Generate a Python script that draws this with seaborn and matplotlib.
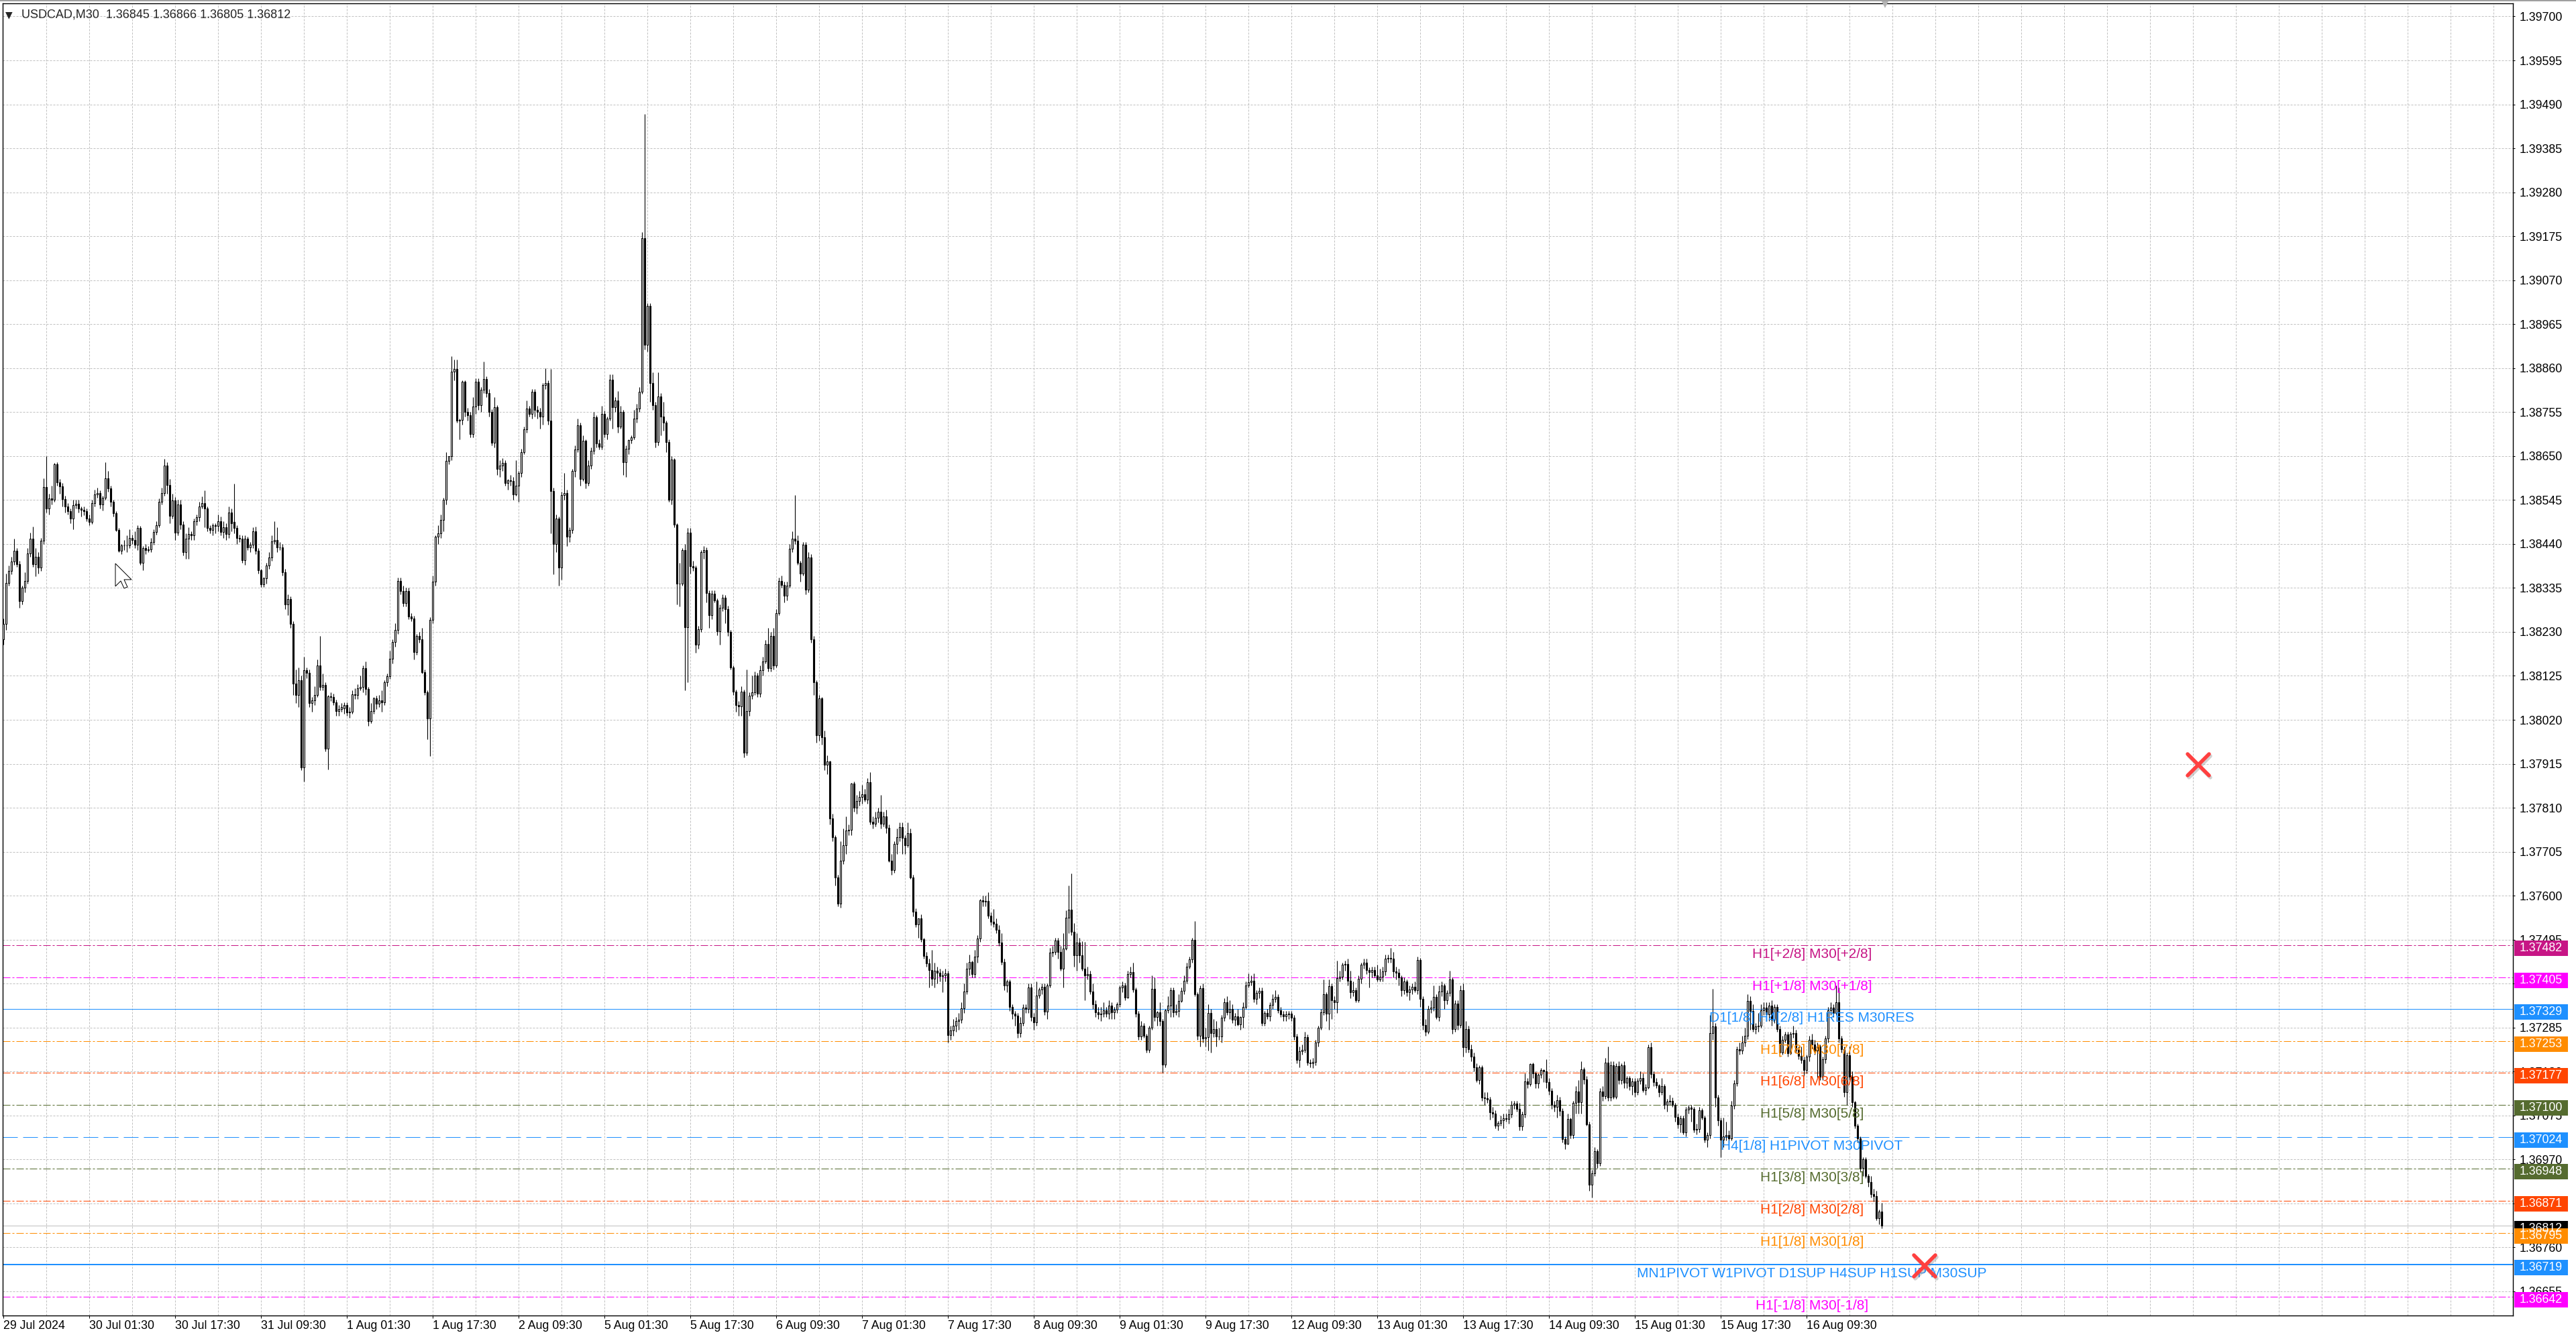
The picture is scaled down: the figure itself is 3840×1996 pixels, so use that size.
import numpy as np
import matplotlib
matplotlib.use("Agg")
import matplotlib.pyplot as plt
import matplotlib.transforms as mtransforms
import matplotlib.patheffects as pe
from matplotlib.markers import MarkerStyle
from matplotlib.patches import Rectangle, Polygon
import seaborn as sns

# USDCAD M30 candles from 29 Jul 2024 09:30 to 16 Aug 2024 23:30 (701 bars)
# prices are stored as points above 1.36000 (1 point = 0.00001)
base = 1.36

opens = [
    2212, 2249, 2347, 2375, 2398, 2424, 2392, 2304, 2335, 2352, 2418, 2452, 2392, 2410, 2384, 2448, 2576, 2524, 2548, 2545,
    2630, 2587, 2578, 2547, 2530, 2518, 2501, 2533, 2536, 2524, 2522, 2518, 2501, 2493, 2538, 2558, 2561, 2535, 2550, 2597,
    2573, 2540, 2513, 2473, 2424, 2437, 2436, 2437, 2455, 2450, 2439, 2479, 2395, 2430, 2426, 2427, 2444, 2469, 2484, 2541,
    2561, 2628, 2581, 2507, 2544, 2467, 2535, 2487, 2421, 2452, 2464, 2461, 2495, 2504, 2530, 2537, 2524, 2478, 2474, 2485,
    2483, 2495, 2469, 2480, 2464, 2515, 2492, 2478, 2455, 2452, 2401, 2452, 2432, 2438, 2470, 2424, 2378, 2344, 2358, 2389,
    2408, 2447, 2450, 2431, 2432, 2372, 2295, 2309, 2249, 2106, 2080, 2115, 1906, 2138, 2132, 2060, 2066, 2080, 2150, 2098,
    2104, 1951, 2076, 2075, 2062, 2041, 2046, 2048, 2056, 2037, 2040, 2081, 2079, 2096, 2098, 2143, 2094, 2017, 2041, 2071,
    2058, 2066, 2062, 2109, 2124, 2166, 2206, 2235, 2352, 2327, 2299, 2327, 2267, 2262, 2182, 2221, 2212, 2134, 2086, 2023,
    2258, 2350, 2458, 2466, 2498, 2545, 2639, 2649, 2851, 2858, 2734, 2737, 2827, 2755, 2748, 2702, 2769, 2827, 2771, 2808,
    2834, 2801, 2755, 2681, 2766, 2620, 2628, 2633, 2585, 2592, 2590, 2559, 2580, 2610, 2660, 2713, 2763, 2750, 2803, 2761,
    2755, 2745, 2819, 2824, 2734, 2567, 2440, 2500, 2384, 2557, 2562, 2458, 2474, 2614, 2665, 2723, 2596, 2686, 2585, 2628,
    2662, 2742, 2680, 2672, 2750, 2702, 2740, 2833, 2766, 2782, 2720, 2755, 2635, 2667, 2688, 2695, 2740, 2764, 2803, 3171,
    2915, 3008, 2824, 2771, 2684, 2793, 2745, 2730, 2684, 2545, 2641, 2486, 2345, 2345, 2425, 2241, 2467, 2387, 2384, 2199,
    2237, 2420, 2425, 2323, 2270, 2321, 2305, 2232, 2288, 2312, 2284, 2230, 2145, 2088, 2056, 2052, 2088, 1941, 2041, 2077,
    2086, 2126, 2082, 2138, 2160, 2201, 2143, 2220, 2150, 2274, 2351, 2342, 2317, 2340, 2429, 2453, 2448, 2395, 2370, 2439,
    2331, 2408, 2213, 2110, 1983, 2072, 1978, 1912, 1920, 1785, 1740, 1644, 1581, 1684, 1720, 1755, 1758, 1868, 1810, 1826,
    1836, 1842, 1830, 1871, 1776, 1772, 1786, 1800, 1772, 1790, 1762, 1684, 1661, 1724, 1740, 1764, 1738, 1721, 1750, 1644,
    1561, 1532, 1545, 1496, 1456, 1439, 1423, 1402, 1420, 1416, 1408, 1410, 1414, 1267, 1278, 1290, 1300, 1304, 1331, 1371,
    1425, 1441, 1413, 1455, 1498, 1589, 1585, 1588, 1552, 1537, 1533, 1519, 1488, 1442, 1385, 1395, 1334, 1319, 1314, 1271,
    1296, 1332, 1330, 1380, 1311, 1298, 1362, 1376, 1382, 1323, 1386, 1464, 1466, 1493, 1465, 1425, 1473, 1547, 1567, 1513,
    1457, 1488, 1458, 1425, 1410, 1413, 1371, 1340, 1322, 1317, 1318, 1327, 1318, 1338, 1322, 1328, 1341, 1380, 1386, 1357,
    1412, 1417, 1376, 1319, 1263, 1290, 1265, 1231, 1285, 1378, 1310, 1322, 1300, 1197, 1327, 1338, 1375, 1322, 1325, 1349,
    1373, 1397, 1431, 1448, 1494, 1365, 1266, 1379, 1259, 1262, 1320, 1272, 1282, 1264, 1264, 1308, 1346, 1322, 1329, 1303,
    1312, 1293, 1310, 1335, 1385, 1394, 1396, 1353, 1368, 1372, 1296, 1320, 1312, 1339, 1353, 1358, 1327, 1317, 1312, 1317,
    1318, 1308, 1263, 1207, 1229, 1232, 1262, 1202, 1200, 1203, 1250, 1285, 1322, 1365, 1318, 1384, 1350, 1345, 1403, 1406,
    1435, 1437, 1396, 1370, 1375, 1350, 1401, 1435, 1440, 1422, 1417, 1422, 1410, 1400, 1406, 1419, 1449, 1452, 1450, 1419,
    1416, 1405, 1374, 1395, 1370, 1376, 1382, 1375, 1446, 1353, 1291, 1275, 1330, 1333, 1359, 1311, 1371, 1385, 1350, 1368,
    1400, 1281, 1342, 1291, 1374, 1238, 1281, 1234, 1216, 1190, 1160, 1190, 1118, 1117, 1113, 1083, 1080, 1050, 1057, 1063,
    1069, 1066, 1078, 1100, 1103, 1090, 1049, 1078, 1157, 1150, 1198, 1176, 1151, 1172, 1183, 1180, 1154, 1134, 1100, 1095,
    1112, 1086, 1018, 1007, 1066, 1028, 1105, 1133, 1106, 1185, 1161, 1054, 910, 937, 990, 961, 1133, 1121, 1202, 1118,
    1195, 1120, 1194, 1160, 1195, 1153, 1165, 1145, 1157, 1130, 1158, 1165, 1136, 1142, 1238, 1174, 1155, 1146, 1130, 1145,
    1100, 1109, 1110, 1100, 1072, 1054, 1068, 1035, 1089, 1094, 1090, 1041, 1043, 1087, 1070, 1017, 1028, 1271, 1287, 1118,
    1063, 1017, 1025, 1028, 1020, 1099, 1152, 1234, 1230, 1250, 1266, 1348, 1324, 1282, 1288, 1290, 1327, 1333, 1317, 1338,
    1303, 1335, 1282, 1225, 1256, 1268, 1223, 1270, 1272, 1232, 1218, 1207, 1183, 1215, 1255, 1245, 1230, 1240, 1167, 1210,
    1259, 1327, 1333, 1320, 1345, 1259, 1234, 1130, 1219, 1167, 1106, 1051, 1020, 949, 970, 931, 916, 888, 883, 830,
    845,
]

highs = [
    2262, 2370, 2388, 2410, 2452, 2430, 2400, 2340, 2372, 2430, 2467, 2482, 2430, 2420, 2455, 2597, 2650, 2560, 2580, 2633,
    2635, 2595, 2585, 2555, 2538, 2525, 2545, 2545, 2545, 2530, 2530, 2525, 2510, 2545, 2570, 2575, 2568, 2555, 2636, 2615,
    2580, 2545, 2518, 2478, 2440, 2450, 2460, 2475, 2462, 2470, 2485, 2483, 2435, 2440, 2435, 2455, 2475, 2495, 2548, 2575,
    2644, 2636, 2595, 2560, 2552, 2545, 2545, 2495, 2465, 2480, 2470, 2500, 2510, 2540, 2553, 2568, 2530, 2485, 2490, 2490,
    2510, 2505, 2495, 2490, 2530, 2525, 2584, 2485, 2462, 2460, 2460, 2458, 2445, 2480, 2482, 2430, 2380, 2362, 2395, 2420,
    2460, 2495, 2480, 2445, 2440, 2380, 2320, 2315, 2255, 2140, 2145, 2125, 2170, 2145, 2140, 2075, 2100, 2165, 2220, 2130,
    2110, 2080, 2085, 2082, 2068, 2055, 2060, 2062, 2062, 2050, 2090, 2095, 2105, 2125, 2150, 2160, 2098, 2060, 2075, 2078,
    2080, 2090, 2115, 2130, 2185, 2212, 2250, 2360, 2360, 2340, 2335, 2335, 2275, 2268, 2225, 2230, 2240, 2140, 2090, 2265,
    2365, 2460, 2485, 2510, 2550, 2660, 2650, 2888, 2880, 2880, 2740, 2830, 2830, 2765, 2755, 2790, 2835, 2835, 2815, 2875,
    2840, 2810, 2762, 2790, 2772, 2640, 2645, 2640, 2595, 2605, 2600, 2640, 2615, 2668, 2720, 2783, 2770, 2810, 2810, 2770,
    2765, 2825, 2860, 2830, 2858, 2575, 2510, 2505, 2565, 2610, 2570, 2480, 2620, 2675, 2740, 2730, 2700, 2690, 2640, 2670,
    2755, 2748, 2690, 2770, 2758, 2745, 2845, 2845, 2790, 2805, 2770, 2760, 2675, 2690, 2700, 2760, 2775, 2815, 3185, 3467,
    3015, 3015, 2850, 2780, 2850, 2800, 2780, 2735, 2690, 2650, 2645, 2490, 2395, 2430, 2440, 2478, 2478, 2400, 2388, 2245,
    2425, 2435, 2432, 2330, 2330, 2330, 2310, 2295, 2320, 2318, 2292, 2235, 2150, 2092, 2065, 2100, 2092, 2140, 2085, 2125,
    2135, 2132, 2150, 2170, 2210, 2240, 2230, 2240, 2285, 2360, 2365, 2350, 2350, 2440, 2470, 2556, 2460, 2400, 2445, 2445,
    2420, 2415, 2220, 2115, 2080, 2075, 1995, 1935, 1922, 1795, 1745, 1650, 1730, 1760, 1790, 1770, 1870, 1872, 1840, 1850,
    1865, 1855, 1880, 1895, 1790, 1800, 1810, 1840, 1800, 1805, 1770, 1700, 1730, 1760, 1775, 1775, 1745, 1775, 1760, 1650,
    1570, 1545, 1555, 1500, 1465, 1450, 1470, 1440, 1430, 1425, 1420, 1425, 1420, 1290, 1305, 1310, 1320, 1345, 1390, 1440,
    1460, 1445, 1470, 1505, 1592, 1600, 1600, 1609, 1560, 1568, 1545, 1530, 1510, 1450, 1400, 1400, 1340, 1325, 1320, 1310,
    1340, 1340, 1390, 1390, 1320, 1395, 1380, 1390, 1390, 1390, 1475, 1480, 1500, 1500, 1480, 1510, 1565, 1625, 1653, 1535,
    1510, 1500, 1492, 1490, 1430, 1420, 1390, 1350, 1335, 1335, 1345, 1335, 1350, 1345, 1335, 1345, 1385, 1395, 1392, 1420,
    1430, 1440, 1380, 1325, 1300, 1295, 1270, 1290, 1410, 1405, 1325, 1345, 1305, 1330, 1360, 1380, 1380, 1340, 1365, 1380,
    1410, 1440, 1455, 1500, 1540, 1370, 1385, 1390, 1285, 1340, 1330, 1305, 1300, 1285, 1315, 1355, 1360, 1350, 1340, 1320,
    1330, 1312, 1345, 1395, 1415, 1410, 1415, 1375, 1380, 1380, 1325, 1330, 1345, 1365, 1375, 1365, 1335, 1325, 1325, 1325,
    1325, 1315, 1270, 1240, 1245, 1275, 1268, 1210, 1212, 1255, 1290, 1330, 1400, 1370, 1400, 1390, 1360, 1445, 1420, 1440,
    1445, 1450, 1420, 1395, 1380, 1410, 1440, 1450, 1450, 1428, 1430, 1430, 1435, 1425, 1430, 1460, 1460, 1475, 1465, 1430,
    1425, 1410, 1405, 1400, 1385, 1390, 1395, 1455, 1452, 1360, 1305, 1338, 1350, 1385, 1365, 1385, 1395, 1390, 1375, 1420,
    1405, 1350, 1350, 1385, 1390, 1300, 1290, 1245, 1225, 1200, 1195, 1195, 1130, 1130, 1120, 1095, 1088, 1062, 1075, 1080,
    1080, 1090, 1110, 1110, 1110, 1105, 1085, 1175, 1165, 1200, 1202, 1180, 1175, 1188, 1185, 1210, 1165, 1140, 1110, 1125,
    1120, 1092, 1025, 1080, 1070, 1110, 1145, 1160, 1205, 1190, 1170, 1060, 945, 1000, 995, 1140, 1145, 1212, 1240, 1205,
    1205, 1200, 1205, 1200, 1205, 1170, 1170, 1165, 1165, 1165, 1180, 1175, 1150, 1245, 1250, 1180, 1165, 1150, 1165, 1150,
    1115, 1125, 1118, 1105, 1080, 1075, 1075, 1095, 1100, 1100, 1095, 1055, 1095, 1092, 1075, 1035, 1315, 1377, 1295, 1125,
    1070, 1070, 1060, 1040, 1110, 1160, 1240, 1250, 1265, 1285, 1365, 1360, 1340, 1295, 1320, 1340, 1345, 1345, 1345, 1350,
    1340, 1340, 1290, 1265, 1275, 1275, 1275, 1290, 1280, 1240, 1240, 1215, 1220, 1265, 1270, 1255, 1250, 1245, 1215, 1265,
    1335, 1345, 1340, 1385, 1380, 1265, 1240, 1225, 1240, 1180, 1110, 1055, 1025, 975, 975, 935, 930, 900, 895, 850,
    866,
]

lows = [
    2200, 2235, 2340, 2368, 2390, 2385, 2287, 2295, 2325, 2345, 2410, 2385, 2363, 2370, 2375, 2440, 2515, 2510, 2535, 2540,
    2580, 2560, 2530, 2515, 2510, 2490, 2475, 2525, 2515, 2505, 2508, 2495, 2485, 2488, 2530, 2550, 2525, 2520, 2545, 2565,
    2530, 2505, 2470, 2420, 2415, 2425, 2420, 2430, 2440, 2430, 2425, 2390, 2378, 2415, 2420, 2420, 2438, 2462, 2480, 2535,
    2555, 2560, 2490, 2500, 2450, 2460, 2475, 2413, 2405, 2405, 2450, 2450, 2485, 2495, 2525, 2480, 2470, 2465, 2460, 2465,
    2470, 2460, 2455, 2450, 2455, 2470, 2465, 2440, 2445, 2395, 2390, 2425, 2420, 2430, 2415, 2370, 2338, 2338, 2345, 2380,
    2400, 2440, 2420, 2425, 2365, 2285, 2270, 2240, 2080, 2060, 2050, 1900, 1873, 2120, 2050, 2040, 2055, 2075, 2090, 2090,
    1945, 1901, 2065, 2055, 2030, 2030, 2040, 2035, 2030, 2025, 2035, 2070, 2070, 2090, 2085, 2080, 2005, 2012, 2035, 2045,
    2050, 2040, 2055, 2100, 2118, 2155, 2195, 2225, 2320, 2290, 2290, 2260, 2255, 2165, 2175, 2205, 2130, 2080, 1973, 1933,
    2250, 2340, 2440, 2455, 2470, 2535, 2630, 2640, 2830, 2730, 2690, 2725, 2745, 2735, 2695, 2695, 2750, 2760, 2755, 2800,
    2790, 2745, 2675, 2670, 2605, 2600, 2615, 2580, 2570, 2580, 2545, 2555, 2540, 2600, 2655, 2705, 2745, 2740, 2745, 2740,
    2715, 2725, 2810, 2725, 2465, 2368, 2420, 2341, 2355, 2545, 2435, 2445, 2465, 2600, 2660, 2580, 2590, 2572, 2580, 2620,
    2655, 2670, 2665, 2665, 2695, 2690, 2735, 2715, 2755, 2705, 2715, 2605, 2600, 2655, 2680, 2690, 2730, 2755, 2798, 2905,
    2900, 2780, 2760, 2670, 2675, 2700, 2710, 2660, 2540, 2535, 2480, 2296, 2290, 2340, 2091, 2110, 2370, 2375, 2180, 2190,
    2230, 2405, 2300, 2240, 2260, 2300, 2222, 2200, 2280, 2250, 2220, 2140, 2080, 2040, 2030, 2030, 1930, 1935, 2030, 2070,
    2080, 2075, 2075, 2125, 2155, 2135, 2135, 2140, 2145, 2270, 2335, 2300, 2305, 2335, 2420, 2440, 2390, 2350, 2365, 2320,
    2325, 2205, 2080, 1965, 1970, 1960, 1900, 1890, 1770, 1730, 1625, 1575, 1572, 1675, 1700, 1745, 1745, 1800, 1795, 1815,
    1820, 1825, 1820, 1770, 1760, 1765, 1775, 1760, 1765, 1750, 1680, 1650, 1655, 1700, 1730, 1700, 1700, 1715, 1640, 1550,
    1525, 1500, 1490, 1450, 1430, 1380, 1385, 1380, 1390, 1395, 1370, 1395, 1250, 1255, 1265, 1275, 1280, 1295, 1320, 1365,
    1410, 1405, 1405, 1440, 1490, 1575, 1575, 1545, 1530, 1525, 1510, 1480, 1435, 1375, 1370, 1325, 1305, 1290, 1260, 1262,
    1290, 1320, 1320, 1300, 1280, 1290, 1355, 1365, 1315, 1305, 1380, 1455, 1460, 1450, 1420, 1380, 1470, 1510, 1505, 1430,
    1420, 1440, 1420, 1350, 1400, 1365, 1330, 1310, 1305, 1300, 1310, 1310, 1305, 1305, 1305, 1320, 1335, 1370, 1350, 1355,
    1405, 1370, 1310, 1255, 1255, 1260, 1225, 1225, 1280, 1300, 1290, 1290, 1178, 1190, 1320, 1310, 1310, 1315, 1310, 1345,
    1365, 1390, 1425, 1440, 1360, 1255, 1240, 1250, 1240, 1230, 1225, 1262, 1240, 1255, 1250, 1300, 1315, 1305, 1295, 1290,
    1290, 1280, 1285, 1330, 1380, 1385, 1345, 1340, 1355, 1290, 1290, 1305, 1300, 1330, 1345, 1320, 1310, 1300, 1300, 1305,
    1300, 1255, 1200, 1190, 1220, 1225, 1195, 1190, 1188, 1195, 1240, 1280, 1315, 1300, 1280, 1305, 1330, 1320, 1395, 1400,
    1420, 1385, 1355, 1360, 1345, 1345, 1390, 1425, 1412, 1380, 1405, 1405, 1395, 1395, 1395, 1410, 1440, 1440, 1405, 1400,
    1385, 1360, 1365, 1360, 1350, 1365, 1370, 1365, 1335, 1280, 1265, 1270, 1320, 1325, 1305, 1300, 1360, 1330, 1340, 1360,
    1270, 1275, 1280, 1285, 1215, 1225, 1225, 1205, 1180, 1155, 1150, 1110, 1100, 1105, 1065, 1070, 1045, 1040, 1050, 1045,
    1060, 1055, 1070, 1090, 1085, 1040, 1040, 1070, 1140, 1145, 1165, 1140, 1140, 1165, 1155, 1140, 1125, 1090, 1085, 1070,
    1075, 1010, 995, 1005, 1020, 1020, 1080, 1080, 1080, 1150, 1050, 895, 880, 930, 950, 955, 1110, 1115, 1110, 1110,
    1115, 1115, 1150, 1150, 1140, 1140, 1135, 1125, 1120, 1125, 1150, 1130, 1125, 1138, 1165, 1145, 1140, 1120, 1125, 1090,
    1085, 1100, 1095, 1060, 1045, 1035, 1030, 1025, 1080, 1060, 1035, 1030, 1035, 1065, 1010, 1000, 1020, 1255, 1095, 1050,
    975, 1000, 1015, 1010, 1015, 1090, 1145, 1220, 1222, 1240, 1258, 1280, 1275, 1270, 1275, 1285, 1315, 1300, 1300, 1290,
    1295, 1275, 1215, 1220, 1250, 1215, 1220, 1260, 1225, 1210, 1200, 1170, 1175, 1205, 1235, 1220, 1165, 1160, 1160, 1200,
    1250, 1315, 1310, 1315, 1250, 1225, 1120, 1100, 1160, 1095, 1045, 1010, 940, 930, 925, 905, 880, 870, 825, 815,
    805,
]

closes = [
    2249, 2347, 2375, 2398, 2424, 2392, 2304, 2335, 2352, 2418, 2452, 2392, 2410, 2384, 2448, 2576, 2524, 2548, 2545, 2630,
    2587, 2578, 2547, 2530, 2518, 2501, 2533, 2536, 2524, 2522, 2518, 2501, 2493, 2538, 2558, 2561, 2535, 2550, 2597, 2573,
    2540, 2513, 2473, 2424, 2437, 2436, 2437, 2455, 2450, 2439, 2479, 2395, 2430, 2426, 2427, 2444, 2469, 2484, 2541, 2561,
    2628, 2581, 2507, 2544, 2467, 2535, 2487, 2421, 2452, 2464, 2461, 2495, 2504, 2530, 2537, 2524, 2478, 2474, 2485, 2483,
    2495, 2469, 2480, 2464, 2515, 2490, 2478, 2455, 2452, 2401, 2452, 2432, 2438, 2470, 2424, 2378, 2344, 2358, 2389, 2408,
    2447, 2450, 2431, 2432, 2372, 2295, 2309, 2249, 2106, 2080, 2115, 1906, 2138, 2132, 2060, 2066, 2080, 2150, 2098, 2104,
    1951, 2076, 2075, 2062, 2041, 2046, 2050, 2056, 2037, 2040, 2081, 2079, 2096, 2098, 2143, 2094, 2017, 2041, 2071, 2058,
    2066, 2062, 2109, 2124, 2166, 2206, 2235, 2352, 2327, 2299, 2327, 2267, 2262, 2182, 2221, 2212, 2134, 2086, 2023, 2258,
    2350, 2458, 2466, 2498, 2545, 2639, 2649, 2851, 2858, 2734, 2737, 2827, 2755, 2748, 2702, 2769, 2827, 2771, 2808, 2834,
    2801, 2755, 2681, 2766, 2620, 2628, 2633, 2585, 2592, 2590, 2559, 2580, 2610, 2660, 2713, 2763, 2750, 2803, 2761, 2755,
    2745, 2819, 2824, 2734, 2567, 2440, 2500, 2384, 2557, 2562, 2458, 2474, 2614, 2665, 2723, 2596, 2686, 2585, 2628, 2662,
    2742, 2680, 2672, 2750, 2702, 2740, 2833, 2766, 2782, 2720, 2755, 2635, 2667, 2688, 2695, 2740, 2764, 2803, 3171, 2915,
    3008, 2824, 2771, 2684, 2793, 2745, 2730, 2684, 2545, 2641, 2486, 2345, 2345, 2425, 2241, 2467, 2387, 2384, 2199, 2237,
    2420, 2425, 2323, 2270, 2321, 2305, 2232, 2288, 2312, 2284, 2230, 2145, 2088, 2056, 2052, 2088, 1941, 2041, 2077, 2086,
    2126, 2082, 2138, 2160, 2201, 2143, 2220, 2150, 2274, 2351, 2342, 2317, 2340, 2429, 2453, 2448, 2395, 2370, 2439, 2331,
    2408, 2213, 2110, 1983, 2072, 1978, 1912, 1920, 1785, 1740, 1644, 1581, 1684, 1720, 1755, 1758, 1868, 1810, 1826, 1836,
    1842, 1830, 1871, 1776, 1772, 1786, 1800, 1772, 1790, 1762, 1684, 1661, 1724, 1740, 1764, 1738, 1721, 1750, 1644, 1561,
    1532, 1545, 1496, 1456, 1439, 1423, 1402, 1420, 1416, 1408, 1410, 1414, 1267, 1278, 1290, 1300, 1304, 1331, 1371, 1425,
    1441, 1413, 1455, 1498, 1589, 1585, 1588, 1552, 1537, 1533, 1519, 1488, 1442, 1385, 1395, 1334, 1319, 1314, 1271, 1296,
    1332, 1330, 1380, 1311, 1298, 1362, 1376, 1382, 1323, 1386, 1464, 1466, 1493, 1465, 1425, 1473, 1547, 1567, 1513, 1457,
    1488, 1458, 1425, 1410, 1413, 1371, 1340, 1322, 1317, 1318, 1327, 1318, 1338, 1322, 1328, 1341, 1380, 1386, 1357, 1412,
    1417, 1376, 1319, 1263, 1290, 1265, 1231, 1285, 1378, 1310, 1322, 1300, 1197, 1327, 1338, 1375, 1322, 1325, 1349, 1373,
    1397, 1431, 1448, 1494, 1365, 1266, 1379, 1259, 1262, 1320, 1272, 1282, 1264, 1264, 1308, 1346, 1322, 1329, 1303, 1312,
    1293, 1310, 1335, 1385, 1394, 1396, 1353, 1368, 1372, 1296, 1320, 1312, 1339, 1353, 1358, 1327, 1317, 1312, 1317, 1318,
    1308, 1263, 1207, 1229, 1232, 1262, 1202, 1200, 1203, 1250, 1285, 1322, 1365, 1318, 1384, 1350, 1345, 1403, 1406, 1435,
    1437, 1396, 1370, 1375, 1350, 1401, 1435, 1440, 1422, 1417, 1422, 1410, 1400, 1406, 1419, 1449, 1452, 1450, 1419, 1416,
    1405, 1374, 1395, 1370, 1376, 1382, 1375, 1446, 1353, 1291, 1275, 1330, 1333, 1359, 1311, 1371, 1385, 1350, 1368, 1400,
    1281, 1342, 1291, 1374, 1238, 1281, 1234, 1216, 1190, 1160, 1190, 1118, 1117, 1113, 1083, 1080, 1050, 1057, 1063, 1069,
    1066, 1078, 1100, 1103, 1090, 1049, 1078, 1157, 1150, 1198, 1176, 1151, 1172, 1183, 1180, 1154, 1134, 1100, 1095, 1112,
    1086, 1018, 1007, 1066, 1028, 1105, 1133, 1106, 1185, 1161, 1054, 910, 937, 990, 961, 1133, 1121, 1202, 1118, 1195,
    1120, 1194, 1160, 1195, 1153, 1165, 1145, 1157, 1130, 1158, 1165, 1136, 1142, 1238, 1174, 1155, 1146, 1130, 1145, 1100,
    1109, 1110, 1100, 1072, 1054, 1068, 1035, 1089, 1094, 1090, 1041, 1043, 1087, 1070, 1017, 1028, 1271, 1287, 1118, 1063,
    1017, 1025, 1028, 1020, 1099, 1152, 1234, 1230, 1250, 1266, 1348, 1324, 1282, 1288, 1290, 1327, 1333, 1317, 1338, 1303,
    1335, 1282, 1225, 1256, 1268, 1223, 1270, 1272, 1232, 1218, 1207, 1183, 1215, 1255, 1245, 1230, 1240, 1167, 1210, 1259,
    1327, 1333, 1320, 1345, 1259, 1234, 1130, 1219, 1167, 1106, 1051, 1020, 949, 970, 931, 916, 888, 883, 830, 845,
    812,
]

date_labels = ["29 Jul 2024", "30 Jul 01:30", "30 Jul 17:30", "31 Jul 09:30", "1 Aug 01:30",
               "1 Aug 17:30", "2 Aug 09:30", "5 Aug 01:30", "5 Aug 17:30", "6 Aug 09:30",
               "7 Aug 01:30", "7 Aug 17:30", "8 Aug 09:30", "9 Aug 01:30", "9 Aug 17:30",
               "12 Aug 09:30", "13 Aug 01:30", "13 Aug 17:30", "14 Aug 09:30", "15 Aug 01:30",
               "15 Aug 17:30", "16 Aug 09:30"]
date_bars = [0, 32, 64, 96, 128, 160, 192, 224, 256, 288, 320, 352, 384, 416, 448,
             480, 512, 544, 576, 608, 640, 672]

level_prices = [1.37482, 1.37405, 1.37329, 1.37253, 1.37177, 1.37100,
                1.37024, 1.36948, 1.36871, 1.36795, 1.36719, 1.36642]
level_names = ["H1[+2/8] M30[+2/8]", "H1[+1/8] M30[+1/8]", "D1[1/8] H4[2/8] H1RES M30RES",
               "H1[7/8] M30[7/8]", "H1[6/8] M30[6/8]", "H1[5/8] M30[5/8]",
               "H4[1/8] H1PIVOT M30PIVOT", "H1[3/8] M30[3/8]", "H1[2/8] M30[2/8]",
               "H1[1/8] M30[1/8]", "MN1PIVOT W1PIVOT D1SUP H4SUP H1SUP M30SUP", "H1[-1/8] M30[-1/8]"]
level_colors = ["#C71585", "#FF00FF", "#1E90FF", "#FF8C00", "#FF4500", "#556B2F",
                "#1E90FF", "#556B2F", "#FF4500", "#FF8C00", "#1E90FF", "#FF00FF"]
level_styles = ["dashdot", "dashdot", "solid", "dashdot", "dashdot", "dashdot",
                "dashed", "dashdot", "dashdot", "dashdot", "thick", "dashdot"]

bid_price = 1.36812
header = "USDCAD,M30  1.36845 1.36866 1.36805 1.36812"
cross_bars = [818, 716]
cross_prices = [1.37912, 1.36716]

n = len(closes)
assert len(opens) == n and len(highs) == n and len(lows) == n, (len(opens), len(highs), len(lows), n)

o = base + np.array(opens) / 1e5
h = base + np.array(highs) / 1e5
l = base + np.array(lows) / 1e5
c = base + np.array(closes) / 1e5
x = np.arange(n)

sns.set_style("white")
plt.rcParams["font.family"] = ["Liberation Sans", "DejaVu Sans"]

W, H = 3840, 1996
fig = plt.figure(figsize=(W / 100, H / 100), dpi=100)
fig.patch.set_facecolor("white")
# plot area in pixels: x 4..3746, y 5..1961
ax = fig.add_axes([4 / W, (H - 1961) / H, (3746 - 4) / W, (1961 - 5) / H])
ax.set_facecolor("white")
ax.set_xlim(-0.25, 935.25)
ax.set_ylim(1.365972, 1.3973124)

PX = 0.72  # one pixel in points

# grid
ytick_vals = np.round(1.36655 + 0.00105 * np.arange(30), 5)
for yv in ytick_vals:
    ax.axhline(yv, color="#c0c0c0", lw=PX, dashes=(3, 2), zorder=0.5)
for xv in range(16, 936, 16):
    ax.axvline(xv, color="#c0c0c0", lw=PX, dashes=(3, 2), zorder=0.5)

# level lines
for p, col, st in zip(level_prices, level_colors, level_styles):
    if st == "dashdot":
        ax.axhline(p, color=col, lw=PX, dashes=(11, 3, 3, 3), zorder=1)
    elif st == "dashed":
        ax.axhline(p, color=col, lw=PX, dashes=(22, 8), zorder=1)
    elif st == "thick":
        ax.axhline(p, color=col, lw=2 * PX, zorder=1)
    else:
        ax.axhline(p, color=col, lw=PX, zorder=1)
ax.axhline(bid_price, color="#c0c0c0", lw=PX, zorder=1)

# candles
body_lo = np.minimum(o, c)
body_h = np.abs(c - o)
ax.vlines(x, l, h, color="black", lw=PX * 1.1, zorder=3)
ax.bar(x, body_h, bottom=body_lo, width=0.55,
       color=np.where(c >= o, "white", "black"), edgecolor="black", linewidth=PX * 1.1, zorder=4)

# level labels
shift = mtransforms.ScaledTranslation(0, -4 / 100, fig.dpi_scale_trans)
for p, name, col in zip(level_prices, level_names, level_colors):
    ax.text(674, p, name, color=col, fontsize=15, ha="center", va="top",
            transform=ax.transData + shift, zorder=6)

# red crosses with a soft shadow
xmark = MarkerStyle("x", capstyle="round")
ax.plot(cross_bars, cross_prices, linestyle="none", marker=xmark, markersize=23,
        markeredgewidth=5.5 * PX, color="#ff4040", zorder=7, clip_on=False,
        path_effects=[pe.SimpleLineShadow(offset=(1.5, -2), shadow_color="gray", alpha=0.35),
                      pe.Normal()])

# axes styling
for sp in ax.spines.values():
    sp.set_color("black")
    sp.set_linewidth(PX * 1.4)
ax.yaxis.tick_right()
ax.set_yticks(ytick_vals)
ax.set_yticklabels([f"{v:.5f}" for v in ytick_vals])
ax.set_xticks(date_bars)
ax.set_xticklabels(date_labels)
for lab in ax.get_xticklabels():
    lab.set_horizontalalignment("left")
ax.tick_params(axis="y", direction="out", length=3 * PX, width=PX, pad=5, labelsize=12.8,
               colors="black", left=False, right=True)
ax.tick_params(axis="x", direction="out", length=4 * PX, width=PX, pad=2, labelsize=12.8,
               colors="black", bottom=True)

# price boxes on the right axis (sit about 4.6 px below their line)
box_tr = mtransforms.blended_transform_factory(ax.transAxes, ax.transData)
unit = 1 / 62411  # price per pixel
box_h = 23 * unit
box_dy = 4.6 * unit
bx0 = (3748 - 4) / 3742
bw = 80 / 3742
boxes = [(bid_price, "black")] + list(zip(level_prices, level_colors))
for p, col in boxes:
    yc = p - box_dy
    ax.add_patch(Rectangle((bx0, yc - box_h / 2), bw, box_h, transform=box_tr,
                           facecolor=col, edgecolor="none", clip_on=False, zorder=8))
    ax.text(bx0 + bw / 2, yc, f"{p:.5f}", transform=box_tr, color="white",
            fontsize=12.8, ha="center", va="center", clip_on=False, zorder=9)

# chart shift marker at top
ax.plot([701.25], [1.0], transform=mtransforms.blended_transform_factory(ax.transData, ax.transAxes),
        marker="v", markersize=10, color="#b4b4b4", markeredgewidth=0, clip_on=False, zorder=9)

# header
fig.text(8 / W, 1 - 22 / H, "\u25bc", fontsize=10, family="DejaVu Sans", va="center", ha="left")
fig.text(32 / W, 1 - 22 / H, header, fontsize=13, va="center", ha="left")

# window edge
fig.add_artist(Rectangle((0, 1 - 2 / H), 1, 2 / H, transform=fig.transFigure,
                         facecolor="#a0a0a0", edgecolor="none"))

# mouse pointer
tip = (172, 840)
pts = [(0, 0), (0, 34), (8, 26), (13, 37), (18, 35), (13, 24), (24, 24)]
cursor = Polygon([((tip[0] + a) / W, 1 - (tip[1] + b) / H) for a, b in pts], closed=True,
                 transform=fig.transFigure, facecolor="white", edgecolor="black", lw=PX)
fig.add_artist(cursor)

fig.savefig("out.png", dpi=100, facecolor="white")
